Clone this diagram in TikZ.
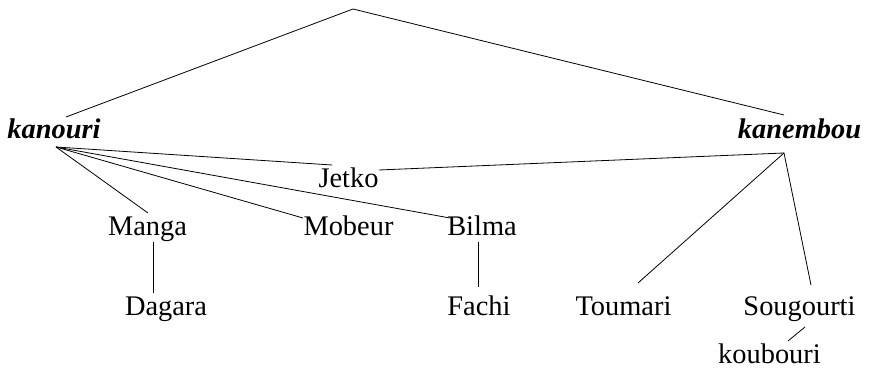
\documentclass[tikz,border=0pt]{standalone}
\usepackage{fontspec}
\setmainfont{Liberation Serif}
\usetikzlibrary{calc}

\begin{document}
\begin{tikzpicture}[x=0.5pt,y=-0.5pt]
\tikzstyle{every node}+=[inner sep=0pt,anchor=base,font=\fontsize{14.2}{17}\selectfont]
\tikzstyle{group}=[font=\fontsize{14.2}{17}\selectfont\bfseries\itshape]
\useasboundingbox (0,0) rectangle (873,368);
\coordinate (root) at (353,9);
\node [group] (kanouri) at (54,139) {kanouri};
\node [group] (kanembou) at (799.5,139) {kanembou};
\node (jetko) at (348.5,188) {Jetko};
\node (manga) at (147.5,236) {Manga};
\node (mobeur) at (348.5,236) {Mobeur};
\node (bilma) at (482,236) {Bilma};
\node (dagara) at (166,316) {Dagara};
\node (fachi) at (479,316) {Fachi};
\node (toumari) at (623.5,316) {Toumari};
\node (sougourti) at (799.5,316) {Sougourti};
\node (koubouri) at (769.5,364) {koubouri};
\draw [black] (root) -- ($(kanouri.base)+(12,-22)$);
\draw [black] (root) -- ($(kanembou.base)+(-15.5,-24)$);
\draw [black] ($(kanouri.base)+(2,8)$) -- ($(jetko.base)+(-16.5,-23)$);
\draw [black] ($(kanouri.base)+(2,8)$) -- ($(manga.base)+(0.5,-23)$);
\draw [black] ($(kanouri.base)+(2,8)$) -- ($(mobeur.base)+(-45.5,-18)$);
\draw [black] ($(kanouri.base)+(2,8)$) -- ($(bilma.base)+(-32,-18)$);
\draw [black] ($(kanembou.base)+(-15.5,14)$) -- ($(jetko.base)+(30.5,-18)$);
\draw [black] ($(kanembou.base)+(-15.5,14)$) -- ($(toumari.base)+(14.5,-33)$);
\draw [black] ($(kanembou.base)+(-15.5,14)$) -- ($(sougourti.base)+(11.5,-31)$);
\draw [black] ($(manga.base)+(5.5,6)$) -- ($(dagara.base)+(-13,-23)$);
\draw [black] ($(bilma.base)+(-4,6)$) -- ($(fachi.base)+(-1,-29)$);
\draw [black] ($(sougourti.base)+(5.5,11)$) -- ($(koubouri.base)+(18.5,-23)$);
\end{tikzpicture}
\end{document}
